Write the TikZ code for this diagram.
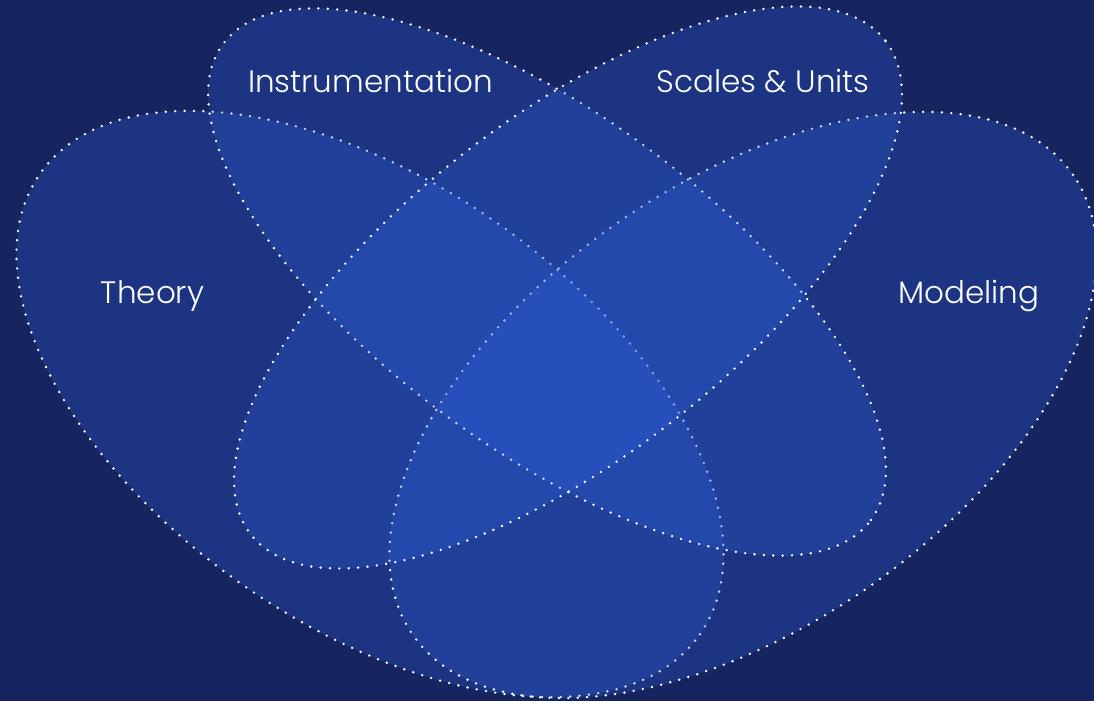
\documentclass[tikz,border=0pt]{standalone}
\usepackage{fontspec}
\IfFontExistsTF{Poppins Light}{\newfontfamily\labfont{Poppins Light}}{\newfontfamily\labfont{Poppins}}
\definecolor{bg}{RGB}{22,36,96}
\definecolor{setblue}{RGB}{48,100,230}
\tikzset{
  venn/.style={fill=setblue, fill opacity=0.25, draw=white, line width=2.7pt,
    line cap=round, dash pattern=on 0pt off 9.4pt},
  lab/.style={text=white, font=\labfont\fontsize{31}{37}\selectfont, anchor=base, inner sep=0pt}
}
\begin{document}
\begin{tikzpicture}[x=1pt,y=1pt]
\useasboundingbox (0,0) rectangle (1094,701);
\clip (0,0) rectangle (1094,701);
\fill[bg] (0,0) rectangle (1094,701);
% Theory
\path[venn, rotate around={-34.9:(370,297)}] (370,297) ellipse [x radius=402.4pt, y radius=221.2pt];
% Modeling
\path[venn, rotate around={34.9:(743,296)}] (743,296) ellipse [x radius=402.4pt, y radius=221.2pt];
% Instrumentation
\path[venn, rotate around={-36.3:(547,419)}] (547,419) ellipse [x radius=402pt, y radius=167.5pt];
% Scales & Units
\path[venn, rotate around={37.9:(568,413.5)}] (568,413.5) ellipse [x radius=402pt, y radius=169.8pt];
\node[lab] (theory) at (152.5,397) {Theory};
\node[lab] (modeling) at (969,397) {Modeling};
\node[lab] (instr) at (370.5,608) {Instrumentation};
\node[lab] (scales) at (763,608) {Scales \& Units};
\end{tikzpicture}
\end{document}
